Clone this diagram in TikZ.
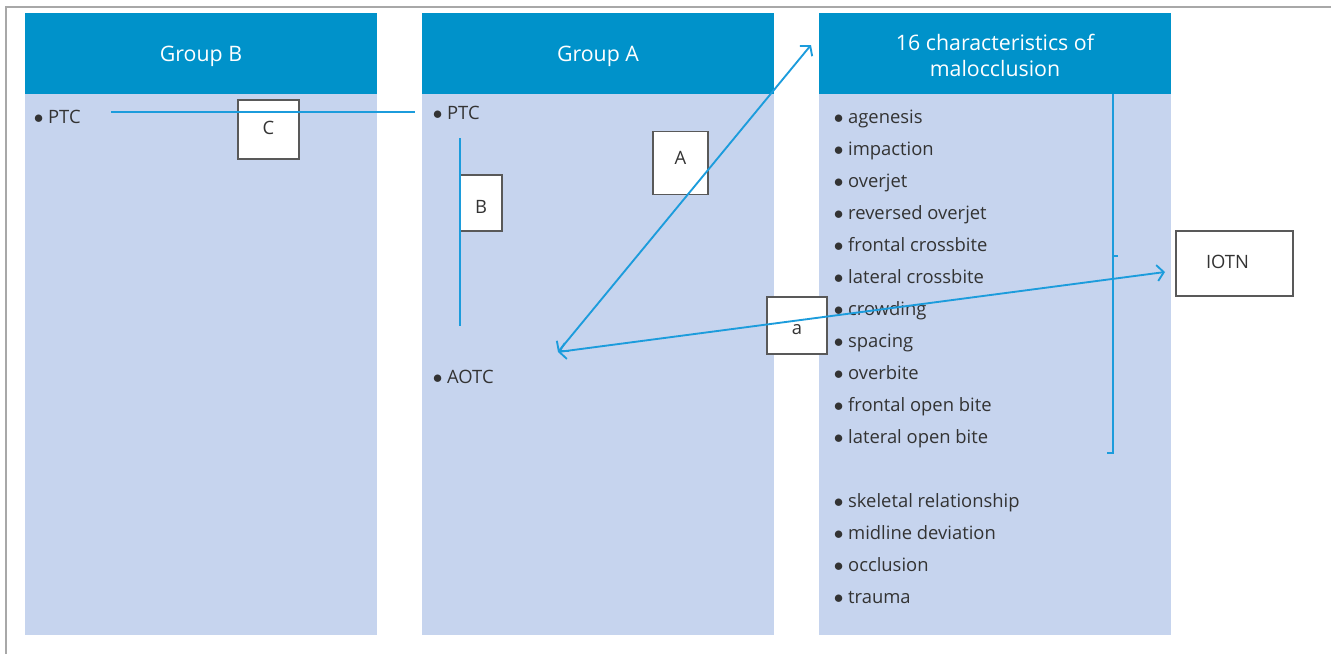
\documentclass[tikz,border=0pt]{standalone}
\usepackage{fontspec}
\setmainfont{Open Sans}
\usepackage{tikz}
\usetikzlibrary{positioning,calc,arrows.meta}
\pgfdeclarelayer{background}
\pgfdeclarelayer{foreground}
\pgfsetlayers{background,main,foreground}
\definecolor{malheadcolor}{HTML}{0092CA}
\definecolor{malbodycolor}{HTML}{C6D4EE}
\definecolor{mallinecolor}{HTML}{1C9CDC}
\definecolor{maltextcolor}{HTML}{333333}
\definecolor{malframecolor}{HTML}{A8A8A8}
\newcommand{\malbul}{$\bullet$\ }
\tikzstyle{colhead} = [fill = malheadcolor, text = white, inner sep = 0pt, minimum width = 264pt, minimum height = 60.75pt, text height = 16.2pt, text depth = 3.8pt, align = center, font = \fontsize{16}{19.5}\selectfont]
\tikzstyle{colbody} = [fill = malbodycolor]
\tikzstyle{itemnode} = [anchor = base west, inner sep = 0pt, text = maltextcolor, font = \fontsize{13.8}{15}\selectfont]
\tikzstyle{labelbox} = [draw = black!65, fill = white, line width = 0.9pt, inner sep = 0pt]
\tikzstyle{labeltext} = [inner sep = 0pt, text = maltextcolor, font = \fontsize{13.8}{15}\selectfont]
\tikzstyle{linkline} = [mallinecolor, line width = 1.4pt]
\tikzstyle{linkarrow} = [linkline, {Straight Barb[length = 5pt, width = 12pt]}-{Straight Barb[length = 5pt, width = 12pt]}]

\begin{document}
\begin{tikzpicture}[x = 0.75pt, y = -0.75pt]
\useasboundingbox (0, 0) rectangle (1331, 654);
\draw[malframecolor, line width = 1.1pt] (6, 654) -- (6, 7) -- (1331, 7);
% columns
\begin{pgfonlayer}{background}
\fill[colbody] (25, 94) rectangle (377, 635);
\fill[colbody] (422, 94) rectangle (774, 635);
\fill[colbody] (819, 94) rectangle (1171, 635);
\end{pgfonlayer}
\node[colhead] (headB) at (201, 53.5) {Group B};
\node[colhead] (headA) at (598, 53.5) {Group A};
\node[colhead, text height = 34.5pt, text depth = 0pt] (headM) at (995, 53.5) {16 characteristics of\\malocclusion};
% items
\node[itemnode] (b0) at (33.5, 123) {\malbul PTC};
\node[itemnode] (a0) at (432.5, 119) {\malbul PTC};
\node[itemnode] (a1) at (432.5, 383) {\malbul AOTC};
\node[itemnode] (m0) at (833.5, 123) {\malbul agenesis};
\node[itemnode] (m1) at (833.5, 155) {\malbul impaction};
\node[itemnode] (m2) at (833.5, 187) {\malbul overjet};
\node[itemnode] (m3) at (833.5, 219) {\malbul reversed overjet};
\node[itemnode] (m4) at (833.5, 251) {\malbul frontal crossbite};
\node[itemnode] (m5) at (833.5, 283) {\malbul lateral crossbite};
\node[itemnode] (m6) at (833.5, 315) {\malbul crowding};
\node[itemnode] (m7) at (833.5, 347) {\malbul spacing};
\node[itemnode] (m8) at (833.5, 379) {\malbul overbite};
\node[itemnode] (m9) at (833.5, 411) {\malbul frontal open bite};
\node[itemnode] (m10) at (833.5, 443) {\malbul lateral open bite};
\node[itemnode] (m11) at (833.5, 507) {\malbul skeletal relationship};
\node[itemnode] (m12) at (833.5, 539) {\malbul midline deviation};
\node[itemnode] (m13) at (833.5, 571) {\malbul occlusion};
\node[itemnode] (m14) at (833.5, 603) {\malbul trauma};
% label boxes
\node[labelbox, minimum width = 45.75pt, minimum height = 44.25pt,
  label = {[labeltext, yshift = 1.1pt]center:C}] (boxC) at (268.5, 129.5) {};
\node[labelbox, minimum width = 41.25pt, minimum height = 47.25pt,
  label = {[labeltext, yshift = 3.6pt]center:A}] (boxA) at (680.5, 163) {};
\node[labelbox, minimum width = 31.5pt, minimum height = 42pt,
  label = {[labeltext, yshift = -2.6pt]center:B}] (boxB) at (481, 203) {};
\node[labelbox, minimum width = 45pt, minimum height = 42.75pt,
  label = {[labeltext, yshift = -3.4pt]center:a}] (boxa) at (797, 325.5) {};
\node[labelbox, minimum width = 87.75pt, minimum height = 48.75pt,
  label = {[labeltext, xshift = -5.25pt, yshift = 1.1pt]center:IOTN}] (iotn) at (1234.5, 263.5) {};
% connector ends
\coordinate (cB) at (111, 112);
\coordinate (cA) at (415, 112);
\coordinate (bTop) at (460, 138);
\coordinate (bBot) at (460, 326);
\coordinate (aotc) at (558, 352);
\coordinate (headTip) at (811, 45);
\coordinate (iotnTip) at (1165, 272);
\coordinate (brTop) at (1113, 94);
\coordinate (brMid) at (1113, 256);
\coordinate (brBot) at (1113, 453);
\begin{pgfonlayer}{foreground}
\draw[linkline] (cB) -- (cA);
\draw[linkline] (bTop) -- (bBot);
\draw[linkarrow] (aotc) -- (headTip);
\draw[linkarrow] (aotc) -- (iotnTip);
\draw[linkline, line width = 1.2pt] (brTop) -- (brBot) -- ++(-6, 0);
\draw[linkline, line width = 1.2pt] (brMid) -- ++(5, 0);
\end{pgfonlayer}

\end{tikzpicture}
\end{document}
